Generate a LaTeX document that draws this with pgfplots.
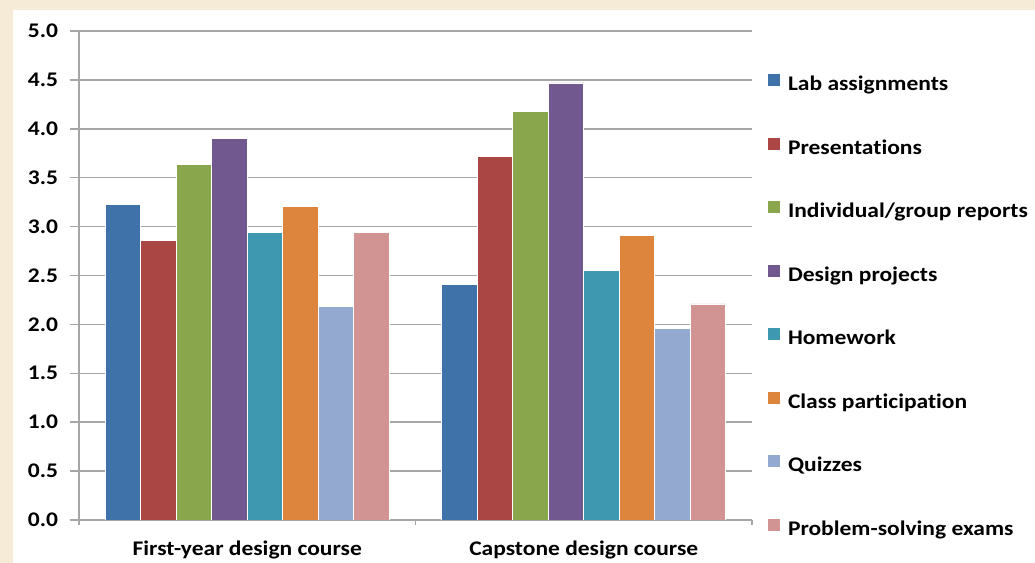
\documentclass[border=0pt]{standalone}
\usepackage{fontspec}
\setmainfont{Carlito}[FakeStretch=1.13, Ligatures={NoCommon,NoRare}]
\usepackage{pgfplots}
\pgfplotsset{compat=1.18}
\definecolor{bgbeige}{RGB}{245,235,215}
\definecolor{gridgray}{RGB}{166,166,166}
\definecolor{cA}{RGB}{63,114,168}
\definecolor{cB}{RGB}{170,71,68}
\definecolor{cC}{RGB}{138,166,76}
\definecolor{cD}{RGB}{113,88,143}
\definecolor{cE}{RGB}{62,152,176}
\definecolor{cF}{RGB}{221,133,61}
\definecolor{cG}{RGB}{147,169,207}
\definecolor{cH}{RGB}{210,147,147}
\newcommand{\lf}{\bfseries\fontsize{10.4}{12}\selectfont}
\begin{document}
\begin{tikzpicture}
\useasboundingbox (0pt,0pt) rectangle (517.5pt,281.5pt);
\fill[bgbeige] (0pt,0pt) rectangle (517.5pt,281.5pt);
\fill[white] (6.5pt,0pt) rectangle (517.5pt,276.5pt);
\begin{axis}[
  at={(39.5pt,21.5pt)}, anchor=south west,
  scale only axis, width=336.5pt, height=244.5pt,
  ybar=0pt, bar width=17.75pt,
  xmin=-0.5, xmax=1.5, ymin=0, ymax=5,
  xtick={0,1}, xticklabels={First-year design course, Capstone design course},
  minor xtick={-0.5,0.5,1.5},
  ytick={0,0.5,...,5},
  axis x line*=bottom, axis y line*=left,
  ymajorgrids, grid style={gridgray, line width=0.75pt},
  axis line style={gridgray, line width=0.75pt},
  tick align=outside,
  major tick length=4.5pt, minor tick length=2.5pt,
  tick style={gridgray, line width=0.75pt},
  every major x tick/.append style={draw=none},
  yticklabel style={font=\lf, anchor=east, inner sep=0pt, xshift=-5.75pt,
    /pgf/number format/.cd, fixed, fixed zerofill, precision=1, assume math mode=true},
  xticklabel style={font=\lf, anchor=base, inner sep=0pt, yshift=-13.5pt},
  legend style={at={(1.0238,0.912)}, anchor=north west, draw=none, fill=none,
    font=\lf, inner sep=0pt, row sep=22.2pt,
    nodes={inner sep=0pt, text height=6pt, text depth=1.5pt},
    /tikz/every odd column/.append style={column sep=4pt}},
  legend cell align=left,
  legend image code/.code={\fill[#1,draw=none] (0pt,0pt) rectangle (5.8pt,5.8pt);},
  every axis plot/.append style={draw=white, line width=0.3pt},
]
\addplot[fill=cA] coordinates {(0,3.23) (1,2.41)};
\addplot[fill=cB] coordinates {(0,2.86) (1,3.72)};
\addplot[fill=cC] coordinates {(0,3.64) (1,4.18)};
\addplot[fill=cD] coordinates {(0,3.90) (1,4.47)};
\addplot[fill=cE] coordinates {(0,2.94) (1,2.55)};
\addplot[fill=cF] coordinates {(0,3.21) (1,2.91)};
\addplot[fill=cG] coordinates {(0,2.18) (1,1.96)};
\addplot[fill=cH] coordinates {(0,2.94) (1,2.21)};
\legend{Lab assignments, Presentations, Individual/group reports, Design projects, Homework, Class participation, Quizzes, Problem-solving exams}
\end{axis}
\end{tikzpicture}
\end{document}
